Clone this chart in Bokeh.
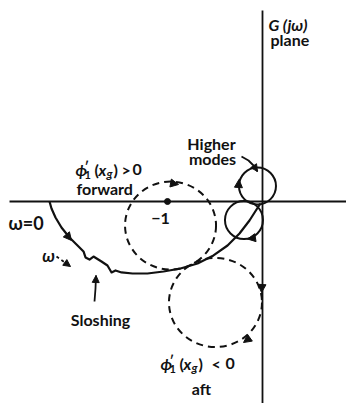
from bokeh.plotting import figure
from bokeh.models import Range1d, Arrow, NormalHead
from bokeh.core.properties import value
from bokeh.embed import file_html
from bokeh.resources import INLINE

# ---- G(jw) plane geometry: one plane unit = distance from origin to -1 ----
UNIT = 95.0                 # screen px per plane unit
ORIGIN_PX = (262.0, 201.0)  # screen position of the origin
W, H = 346, 403
FONT = "Lato"

# Nyquist locus of the vehicle with sloshing wiggles (real, imaginary)
locus_re = [-2.242, -2.221, -2.179, -2.116, -2.032, -1.947, -1.884, -1.863,
            -1.821, -1.779, -1.695, -1.632, -1.589, -1.547, -1.484, -1.368,
            -1.211, -1.042, -0.863, -0.684, -0.516, -0.368, -0.242, -0.137,
            -0.063, -0.021]
locus_im = [0.000, -0.074, -0.168, -0.274, -0.379, -0.463, -0.526, -0.589,
            -0.611, -0.579, -0.632, -0.674, -0.747, -0.726, -0.747, -0.758,
            -0.758, -0.737, -0.705, -0.653, -0.568, -0.463, -0.337, -0.200,
            -0.084, -0.021]

critical_re = [-1.0]
critical_im = [0.0]

# higher bending-mode loops near the origin
loop_re = [-0.195, -0.053]
loop_im = [-0.195, 0.163]
loop_d = [0.40, 0.39]

# first bending-mode circle: gyro forward (phi' > 0) and aft (phi' < 0)
mode_re = [-0.968, -0.495]
mode_im = [-0.253, -1.063]
mode_w = [0.958, 0.979]
mode_h = [0.926, 0.937]

# plane axes extents
axis_re = [-2.663, 0.884]
axis_im = [2.011, -2.126]


def to_plane(xp, yp):
    return (xp - ORIGIN_PX[0]) / UNIT, (ORIGIN_PX[1] - yp) / UNIT


x0, y1 = to_plane(0, 0)
x1, y0 = to_plane(W, H)

p = figure(width=W, height=H, x_range=Range1d(x0, x1), y_range=Range1d(y0, y1),
           output_backend="svg", toolbar_location=None, min_border=0,
           x_axis_type=None, y_axis_type=None)
p.grid.visible = False
p.outline_line_color = None
p.background_fill_color = "white"
p.border_fill_color = "white"

INK = "#111111"

# axes of the plane
p.line(axis_re, [0, 0], line_color=INK, line_width=1.8)
p.line([0, 0], axis_im, line_color=INK, line_width=1.8)

# locus and loops
p.line(locus_re, locus_im, line_color=INK, line_width=2.2, line_join="round")
p.ellipse(x=loop_re, y=loop_im, width=loop_d, height=loop_d,
          fill_color=None, line_color=INK, line_width=2)
p.ellipse(x=mode_re, y=mode_im, width=mode_w, height=mode_h,
          fill_color=None, line_color=INK, line_width=2, line_dash="7 5")
p.scatter(critical_re, critical_im, size=6, color=INK)


def head(xs, ys, xe, ye, size=8):
    a, b = to_plane(xs, ys)
    c, d = to_plane(xe, ye)
    p.add_layout(Arrow(end=NormalHead(size=size, fill_color=INK, line_color=INK, line_width=1),
                       x_start=a, y_start=b, x_end=c, y_end=d, line_alpha=0))


def pointer(xs, ys, size=7, dash="solid"):
    pts = [to_plane(x, y) for x, y in zip(xs, ys)]
    p.line([q[0] for q in pts], [q[1] for q in pts], line_color=INK,
           line_width=1.8, line_dash=dash)
    head(xs[-2], ys[-2], xs[-1], ys[-1], size)


# direction arrows along the curves
head(66, 234, 71, 240)        # locus, increasing w
head(170, 182.5, 178, 184)    # forward circle
head(250, 337, 243, 342)      # aft circle, bottom
head(261.5, 284, 261, 292)    # aft circle, right side
head(238, 186, 238.5, 179)    # upper loop
head(253, 237.5, 247, 238.5)  # lower loop

# label pointers
pointer([241, 248, 253, 257], [156, 160, 165, 171])
pointer([94, 95, 95.5], [301, 288, 275])
pointer([56, 70], [256, 266], dash="3 3")


def txt(xp, yp, s, size=16, style="bold", align="left"):
    x, y = to_plane(xp, yp)
    p.text(x=[x], y=[y], text=[s], text_font=value(FONT),
           text_font_size=f"{size}px", text_font_style=style,
           text_align=align, text_baseline="alphabetic", text_color=INK)


def phi_label(xp, yp, rel, cmp_dx, zero_dx):
    txt(xp, yp, "\u03d5", 16, "bold italic")
    txt(xp + 9, yp - 4, "\u2032", 13, "bold")
    txt(xp + 9, yp + 5, "1", 11, "bold")
    txt(xp + 19, yp, "(", 16, "bold")
    txt(xp + 23, yp, "x", 16, "bold italic")
    txt(xp + 31, yp + 4, "g", 12, "bold italic")
    txt(xp + 38, yp, ")", 16, "bold")
    txt(xp + cmp_dx, yp, rel, 16, "bold")
    txt(xp + zero_dx, yp, "0", 16, "bold")


txt(268, 24, "G (j\u03c9)", 16, "bold italic")
txt(270, 39, "plane", 16)
txt(211, 143, "Higher", 16, align="center")
txt(212, 158, "modes", 16, align="center")
phi_label(75, 169, ">", 46, 57)
txt(76, 188, "forward", 16)
txt(160, 218, "\u22121", 16, align="center")
txt(8, 222, "\u03c9=0", 18)
txt(48, 255, "\u03c9", 17, "bold italic", align="center")
txt(100, 319, "Sloshing", 16, align="center")
phi_label(160, 363, "<", 51, 65)
txt(201, 388, "aft", 16, align="center")

open("out.html", "w").write(file_html(p, INLINE))
